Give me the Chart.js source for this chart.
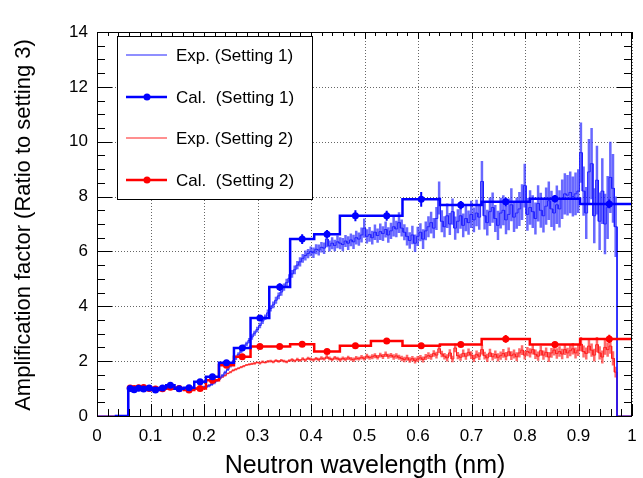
<!DOCTYPE html>
<html>
<head>
<meta charset="utf-8">
<script src="https://cdn.jsdelivr.net/npm/chart.js@4.4.1/dist/chart.umd.min.js"></script>
<style>
  html, body { margin: 0; padding: 0; background: #fff; }
  canvas { display: block; }
</style>
</head>
<body>
<canvas id="myChart" width="643" height="478"></canvas>
<script>
// experimental histograms: regular bins of 0.005 nm starting at 0.057 nm
const expStart = 0.057;
const expWidth = 0.005;

const expBlue = [
  1.00, 0.98, 1.01, 0.97, 0.99, 1.02, 0.98, 1.00, 1.01, 0.97,
  0.99, 1.02, 1.04, 1.06, 1.09, 1.07, 1.05, 1.02, 1.00, 0.98,
  0.99, 1.00, 0.97, 0.99, 1.01, 1.00, 1.02, 1.03, 1.05, 1.07,
  1.10, 1.15, 1.22, 1.30, 1.38, 1.47, 1.58, 1.70, 1.84, 1.97,
  2.12, 2.25, 2.38, 2.52, 2.63, 2.75, 2.88, 3.02, 3.15, 3.30,
  3.46, 3.60, 3.76, 3.92, 4.05, 4.22, 4.38, 4.52, 4.70, 4.86,
  5.02, 5.18, 5.33, 5.50, 5.62, 5.75, 5.85, 5.92, 6.00, 5.95,
  6.08, 6.05, 6.15, 6.12, 6.45, 6.20, 6.30, 6.22, 6.35, 6.30,
  6.25, 6.38, 6.30, 6.42, 6.35, 6.50, 6.45, 6.60, 6.85, 6.55,
  6.62, 6.50, 6.70, 6.58, 6.72, 6.65, 6.80, 6.60, 6.75, 6.90,
  6.82, 7.05, 6.85, 6.70, 6.55, 6.40, 6.60, 6.30, 6.55, 6.70,
  6.45, 6.75, 6.90, 7.05, 6.85, 7.20, 7.95, 7.10, 6.90, 7.30,
  7.00, 7.45, 6.85, 7.10, 7.30, 6.95, 7.20, 7.05, 7.35, 7.15,
  7.40, 7.25, 8.55, 7.30, 7.05, 7.45, 7.60, 7.20, 6.95, 7.40,
  7.50, 7.15, 7.35, 7.70, 7.25, 7.40, 7.55, 7.80, 8.40, 7.35,
  7.60, 7.45, 7.20, 7.75, 7.50, 7.30, 7.65, 7.85, 7.55, 7.40,
  7.70, 7.55, 7.90, 8.10, 8.05, 8.15, 8.00, 8.10, 8.20, 9.60,
  8.20, 7.40, 8.90, 9.20, 7.30, 8.60, 7.10, 8.20, 7.00, 7.60,
  8.70, 8.30, 6.90
];
const expBlueErr = [
  0.03, 0.03, 0.03, 0.03, 0.03, 0.03, 0.03, 0.03, 0.03, 0.03,
  0.03, 0.03, 0.04, 0.03, 0.04, 0.03, 0.03, 0.04, 0.03, 0.03,
  0.04, 0.03, 0.04, 0.04, 0.03, 0.04, 0.04, 0.04, 0.05, 0.05,
  0.05, 0.05, 0.06, 0.05, 0.06, 0.06, 0.07, 0.06, 0.07, 0.07,
  0.08, 0.07, 0.08, 0.09, 0.08, 0.09, 0.10, 0.09, 0.10, 0.10,
  0.11, 0.10, 0.12, 0.11, 0.12, 0.13, 0.12, 0.14, 0.13, 0.14,
  0.15, 0.14, 0.16, 0.15, 0.17, 0.16, 0.18, 0.17, 0.18, 0.19,
  0.18, 0.20, 0.19, 0.21, 0.30, 0.20, 0.22, 0.21, 0.23, 0.22,
  0.24, 0.22, 0.25, 0.23, 0.26, 0.25, 0.24, 0.27, 0.35, 0.26,
  0.27, 0.25, 0.28, 0.26, 0.30, 0.27, 0.29, 0.28, 0.30, 0.36,
  0.30, 0.38, 0.31, 0.29, 0.33, 0.30, 0.34, 0.32, 0.35, 0.33,
  0.36, 0.34, 0.38, 0.40, 0.37, 0.42, 0.60, 0.40, 0.38, 0.45,
  0.40, 0.48, 0.42, 0.44, 0.47, 0.43, 0.46, 0.44, 0.50, 0.45,
  0.48, 0.46, 0.75, 0.50, 0.47, 0.52, 0.55, 0.49, 0.53, 0.56,
  0.55, 0.52, 0.58, 0.60, 0.54, 0.57, 0.62, 0.65, 0.80, 0.60,
  0.63, 0.60, 0.58, 0.66, 0.64, 0.61, 0.68, 0.70, 0.66, 0.64,
  0.70, 0.68, 0.72, 0.75, 0.74, 0.76, 0.73, 0.78, 0.80, 1.10,
  0.90, 0.95, 1.20, 1.30, 1.00, 1.25, 1.05, 1.20, 1.10, 1.15,
  1.30, 1.25, 1.10
];

const expRed = [
  1.02, 1.00, 0.99, 1.01, 1.03, 1.00, 0.98, 1.01, 1.00, 0.99,
  1.01, 0.99, 1.02, 1.00, 0.98, 1.01, 0.99, 0.97, 0.98, 0.96,
  0.97, 0.95, 0.97, 0.96, 0.98, 0.99, 1.01, 1.03, 1.05, 1.08,
  1.12, 1.17, 1.23, 1.30, 1.36, 1.42, 1.48, 1.55, 1.60, 1.66,
  1.70, 1.74, 1.78, 1.82, 1.86, 1.88, 1.90, 1.92, 1.95, 1.93,
  1.97, 1.95, 1.99, 2.00, 1.97, 2.02, 1.99, 2.03, 2.00, 1.97,
  2.02, 2.05, 2.01, 2.06, 2.03, 2.08, 2.04, 2.10, 2.07, 2.05,
  2.09, 2.06, 2.11, 2.08, 2.15, 2.10, 2.06, 2.12, 2.09, 2.05,
  2.10, 2.07, 2.12, 2.08, 2.05, 2.11, 2.09, 2.14, 2.10, 2.18,
  2.13, 2.16, 2.20, 2.14, 2.22, 2.17, 2.25, 2.18, 2.21, 2.15,
  2.19, 2.14, 2.10, 2.06, 2.12, 2.04, 2.09, 2.02, 2.08, 2.12,
  2.06, 2.15, 2.20, 2.16, 2.28, 2.22, 2.45, 2.26, 2.18, 2.12,
  2.30, 2.08, 2.48, 2.20, 2.14, 2.28, 2.18, 2.32, 2.22, 2.10,
  2.25, 2.18, 2.42, 2.20, 2.12, 2.30, 2.16, 2.24, 2.14, 2.20,
  2.28, 2.18, 2.34, 2.20, 2.26, 2.16, 2.30, 2.40, 2.22, 2.35,
  2.30, 2.42, 2.25, 2.18, 2.38, 2.22, 2.32, 2.15, 2.30, 2.40,
  2.28, 2.35, 2.26, 2.42, 2.30, 2.38, 2.45, 2.30, 2.40, 2.62,
  2.35, 2.28, 2.55, 2.40, 2.22, 2.60, 2.30, 2.15, 2.50, 2.42,
  2.55, 2.10, 1.60
];
const expRedErr = [
  0.02, 0.02, 0.02, 0.02, 0.02, 0.02, 0.02, 0.02, 0.02, 0.02,
  0.02, 0.02, 0.02, 0.02, 0.02, 0.02, 0.02, 0.02, 0.02, 0.02,
  0.02, 0.02, 0.02, 0.02, 0.02, 0.02, 0.03, 0.03, 0.03, 0.03,
  0.03, 0.03, 0.03, 0.03, 0.03, 0.03, 0.04, 0.03, 0.04, 0.04,
  0.04, 0.04, 0.04, 0.04, 0.04, 0.04, 0.04, 0.05, 0.04, 0.05,
  0.05, 0.04, 0.05, 0.05, 0.05, 0.05, 0.05, 0.05, 0.05, 0.05,
  0.05, 0.06, 0.05, 0.06, 0.05, 0.06, 0.06, 0.06, 0.06, 0.06,
  0.06, 0.06, 0.07, 0.06, 0.07, 0.07, 0.06, 0.07, 0.07, 0.07,
  0.07, 0.07, 0.08, 0.07, 0.08, 0.08, 0.07, 0.08, 0.08, 0.09,
  0.08, 0.09, 0.09, 0.08, 0.09, 0.09, 0.10, 0.09, 0.09, 0.10,
  0.10, 0.09, 0.10, 0.10, 0.11, 0.10, 0.10, 0.11, 0.11, 0.10,
  0.11, 0.11, 0.12, 0.11, 0.12, 0.12, 0.15, 0.12, 0.12, 0.13,
  0.13, 0.12, 0.16, 0.13, 0.13, 0.14, 0.13, 0.14, 0.14, 0.13,
  0.14, 0.14, 0.18, 0.14, 0.15, 0.15, 0.14, 0.15, 0.15, 0.15,
  0.16, 0.15, 0.16, 0.16, 0.16, 0.16, 0.17, 0.18, 0.16, 0.17,
  0.17, 0.18, 0.17, 0.17, 0.18, 0.17, 0.18, 0.18, 0.18, 0.19,
  0.19, 0.19, 0.19, 0.20, 0.19, 0.20, 0.21, 0.20, 0.21, 0.26,
  0.22, 0.22, 0.26, 0.24, 0.23, 0.28, 0.24, 0.24, 0.27, 0.26,
  0.28, 0.26, 0.20
];

// calculated histograms: variable bins
const calEdges = [0.0585, 0.0655, 0.0734, 0.0822, 0.0921, 0.1031, 0.1155, 0.1294,
  0.1449, 0.1623, 0.1818, 0.2036, 0.228, 0.256, 0.287, 0.322, 0.361, 0.406,
  0.454, 0.512, 0.571, 0.641, 0.719, 0.809, 0.903, 1.012];
const calBlue = [1.00, 0.96, 1.01, 0.98, 1.02, 0.95, 1.02, 1.12, 0.99, 1.03, 1.25, 1.43,
  1.94, 2.48, 3.57, 4.70, 6.45, 6.63, 7.30, 7.30, 7.90, 7.69, 7.81, 7.92, 7.73];
const calBlueErr = [0.03, 0.03, 0.03, 0.03, 0.03, 0.03, 0.03, 0.04, 0.03, 0.04, 0.04, 0.05,
  0.06, 0.08, 0.11, 0.14, 0.18, 0.15, 0.20, 0.18, 0.27, 0.15, 0.16, 0.14, 0.16];
const calRed = [1.02, 1.00, 1.03, 1.04, 1.00, 0.98, 0.99, 1.05, 1.00, 0.95, 1.00, 1.30,
  1.85, 2.16, 2.53, 2.53, 2.62, 2.35, 2.56, 2.73, 2.56, 2.61, 2.81, 2.61, 2.81];
const calRedErr = [0.03, 0.03, 0.03, 0.03, 0.03, 0.03, 0.03, 0.03, 0.03, 0.03, 0.03, 0.04,
  0.05, 0.06, 0.06, 0.06, 0.07, 0.07, 0.08, 0.08, 0.09, 0.09, 0.14, 0.10, 0.15];

const xTickLabels = ['0', '0.1', '0.2', '0.3', '0.4', '0.5', '0.6', '0.7', '0.8', '0.9', '1'];
const yTickLabels = ['0', '2', '4', '6', '8', '10', '12', '14'];
const legendLabels = ['Exp. (Setting 1)', 'Cal.  (Setting 1)', 'Exp. (Setting 2)', 'Cal.  (Setting 2)'];

const FONT = "'Liberation Sans', Arial, Helvetica, sans-serif";

// outline of a histogram as corner points, empty outside its range
function histOutline(edges, values) {
  const pts = [{ x: 0, y: 0 }, { x: edges[0], y: 0 }];
  values.forEach((v, i) => {
    pts.push({ x: edges[i], y: v });
    pts.push({ x: edges[i + 1], y: v });
  });
  pts.push({ x: edges[edges.length - 1], y: 0 });
  pts.push({ x: 1, y: 0 });
  return pts;
}

const expEdges = [];
for (let i = 0; i <= expBlue.length; i++) expEdges.push(expStart + i * expWidth);

function centers(edges, values) {
  return values.map((v, i) => ({ x: (edges[i] + edges[i + 1]) / 2, y: v }));
}

const blue = 'rgb(0, 0, 255)';
const red = 'rgb(255, 0, 0)';
const blueExp = 'rgba(20, 20, 255, 0.95)';
const redExp = 'rgba(255, 20, 20, 0.95)';

const calBlueLine = histOutline(calEdges, calBlue);
calBlueLine[0] = { x: 0.0332, y: 0 };

const datasets = [
  { label: 'expRed', data: histOutline(expEdges, expRed), borderColor: redExp, borderWidth: 1, order: 8 },
  { label: 'expRedErr', data: centers(expEdges, expRed), errs: expRedErr, errColor: 'rgba(255, 40, 40, 0.7)', errWidth: 2.5, showLine: false, order: 7 },
  { label: 'expBlue', data: histOutline(expEdges, expBlue), borderColor: blueExp, borderWidth: 1, order: 6 },
  { label: 'expBlueErr', data: centers(expEdges, expBlue), errs: expBlueErr, errColor: 'rgba(40, 40, 255, 0.7)', errWidth: 2.5, showLine: false, order: 5 },
  { label: 'calRed', data: histOutline(calEdges, calRed).slice(2, -2), borderColor: red, borderWidth: 2.5, order: 4 },
  { label: 'calRedPts', data: centers(calEdges, calRed), errs: calRedErr, errColor: red, errWidth: 2,
    showLine: false, pointRadius: 3.5, pointBackgroundColor: red, pointBorderWidth: 0, order: 3 },
  { label: 'calBlue', data: calBlueLine.slice(0, -2), borderColor: blue, borderWidth: 2.5, order: 2 },
  { label: 'calBluePts', data: centers(calEdges, calBlue), errs: calBlueErr, errColor: blue, errWidth: 2,
    showLine: false, pointRadius: 3.5, pointBackgroundColor: blue, pointBorderWidth: 0, order: 1 },
];
datasets.forEach((d) => {
  if (d.pointRadius === undefined) d.pointRadius = 0;
  d.tension = 0;
  d.fill = false;
});

const errorBars = {
  id: 'errorBars',
  afterDatasetDraw(chart, args) {
    const ds = chart.data.datasets[args.index];
    if (!ds.errs) return;
    const { ctx, chartArea } = chart;
    const x = chart.scales.x;
    const y = chart.scales.y;
    ctx.save();
    ctx.beginPath();
    ctx.rect(chartArea.left, chartArea.top, chartArea.width, chartArea.height);
    ctx.clip();
    ctx.strokeStyle = ds.errColor;
    ctx.lineWidth = ds.errWidth;
    ctx.beginPath();
    ds.data.forEach((p, i) => {
      const px = x.getPixelForValue(p.x);
      ctx.moveTo(px, y.getPixelForValue(p.y - ds.errs[i]));
      ctx.lineTo(px, y.getPixelForValue(p.y + ds.errs[i]));
    });
    ctx.stroke();
    ctx.restore();
  },
};

const frame = {
  id: 'frame',
  beforeDatasetsDraw(chart) {
    const { ctx, chartArea: a } = chart;
    const x = chart.scales.x;
    const y = chart.scales.y;
    ctx.save();
    ctx.strokeStyle = '#666';
    ctx.lineWidth = 1;
    ctx.setLineDash([1, 2]);
    ctx.beginPath();
    xTickLabels.forEach((t) => {
      const px = Math.round(x.getPixelForValue(+t)) + 0.5;
      ctx.moveTo(px, a.top);
      ctx.lineTo(px, a.bottom);
    });
    yTickLabels.forEach((t) => {
      const py = Math.round(y.getPixelForValue(+t)) + 0.5;
      ctx.moveTo(a.left, py);
      ctx.lineTo(a.right, py);
    });
    ctx.stroke();
    ctx.restore();
  },
  afterDatasetsDraw(chart) {
    const { ctx, chartArea: a } = chart;
    const x = chart.scales.x;
    const y = chart.scales.y;
    ctx.save();
    ctx.strokeStyle = '#000';
    ctx.lineWidth = 1;
    ctx.strokeRect(a.left + 0.5, a.top + 0.5, a.width - 1, a.height);

    ctx.beginPath();
    for (let k = 0; k <= 50; k++) {
      const px = Math.round(x.getPixelForValue(k * 0.02)) + 0.5;
      const major = k % 5 === 0;
      ctx.moveTo(px, a.bottom);
      ctx.lineTo(px, a.bottom - (major ? 12 : 7));
      ctx.moveTo(px, a.top);
      ctx.lineTo(px, a.top + (major ? 7 : 4));
    }
    for (let k = 0; k <= 28; k++) {
      const py = Math.round(y.getPixelForValue(k * 0.5)) + 0.5;
      const major = k % 4 === 0;
      ctx.moveTo(a.left, py);
      ctx.lineTo(a.left + (major ? 15 : 8), py);
      ctx.moveTo(a.right, py);
      ctx.lineTo(a.right - (major ? 15 : 8), py);
    }
    ctx.stroke();

    ctx.fillStyle = '#000';
    ctx.font = '17px ' + FONT;
    ctx.textAlign = 'center';
    ctx.textBaseline = 'middle';
    xTickLabels.forEach((t) => {
      ctx.fillText(t, x.getPixelForValue(+t), a.bottom + 20);
    });
    ctx.textAlign = 'right';
    yTickLabels.forEach((t) => {
      ctx.fillText(t, a.left - 9, y.getPixelForValue(+t));
    });

    ctx.font = '25px ' + FONT;
    ctx.textAlign = 'center';
    ctx.fillText('Neutron wavelength (nm)', 365, 466);
    ctx.save();
    ctx.translate(24, 225);
    ctx.rotate(-Math.PI / 2);
    ctx.font = '22px ' + FONT;
    ctx.fillText('Amplification factor (Ratio to setting 3)', 0, 0);
    ctx.restore();

    // legend box
    ctx.fillStyle = '#fff';
    ctx.fillRect(117, 36, 195, 163);
    ctx.strokeRect(117.5, 36.5, 195, 163);
    const rows = [55, 97, 138, 180];
    const styles = [
      { c: blueExp, w: 1, dot: false },
      { c: blue, w: 2.5, dot: true },
      { c: redExp, w: 1, dot: false },
      { c: red, w: 2.5, dot: true },
    ];
    rows.forEach((ry, i) => {
      const s = styles[i];
      ctx.strokeStyle = s.c;
      ctx.lineWidth = s.w;
      ctx.beginPath();
      ctx.moveTo(126, ry);
      ctx.lineTo(167, ry);
      ctx.stroke();
      if (s.dot) {
        ctx.fillStyle = s.c;
        ctx.beginPath();
        ctx.arc(147, ry, 3.5, 0, Math.PI * 2);
        ctx.fill();
      }
      ctx.fillStyle = '#000';
      ctx.font = '17px ' + FONT;
      ctx.textAlign = 'left';
      ctx.fillText(legendLabels[i], 176, ry + 1);
    });
    ctx.restore();
  },
};

const ctx = document.getElementById('myChart').getContext('2d');
window.myChart = new Chart(ctx, {
  type: 'line',
  data: { datasets },
  options: {
    responsive: false,
    animation: false,
    devicePixelRatio: 1,
    layout: { padding: { left: 97, right: 11, top: 32, bottom: 62 } },
    scales: {
      x: { type: 'linear', min: 0, max: 1, display: false },
      y: { type: 'linear', min: 0, max: 14, display: false },
    },
    plugins: {
      legend: { display: false },
      tooltip: { enabled: false },
    },
  },
  plugins: [errorBars, frame],
});
</script>
</body>
</html>
